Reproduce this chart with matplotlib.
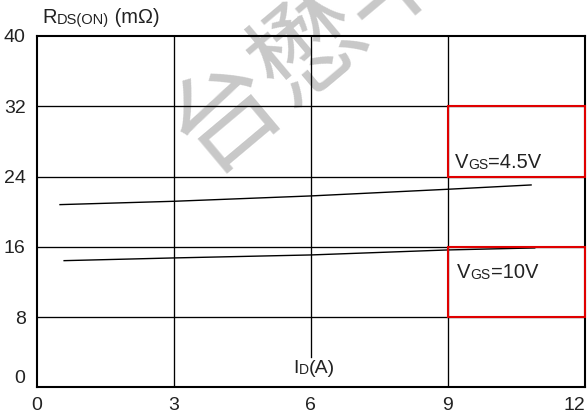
import numpy as np
import matplotlib
matplotlib.use("Agg")
import matplotlib.pyplot as plt
from matplotlib.patches import Rectangle

plt.rcParams['font.family'] = ['Liberation Sans', 'DejaVu Sans']

# curves
id_45 = [0.51, 3, 6, 9, 10.82]
rds_45 = [20.8, 21.18, 21.79, 22.55, 23.04]
id_10 = [0.60, 3, 6, 9, 10.9]
rds_10 = [14.42, 14.73, 15.07, 15.64, 15.87]

xticks = [0, 3, 6, 9, 12]
yticks = [0, 8, 16, 24, 32, 40]

# red label boxes (x0, y0, w, h)
box_45 = (9, 24, 3, 8)
box_10 = (9, 8, 3, 8)

fig = plt.figure(figsize=(5.88, 4.17), dpi=100)
ax = fig.add_axes([36.7 / 588, 1 - 387.3 / 417, 548.3 / 588, (387.3 - 36) / 417])
ax.set_xlim(0, 12)
ax.set_ylim(0, 40)

# watermark
ax.text(0.312, 0.642, "台懋半导体", transform=fig.transFigure, fontsize=78,
        family=['Noto Sans CJK SC'], color='#c8c8c8', rotation=40,
        rotation_mode='anchor', ha='left', va='center', zorder=0.1, clip_on=False)

# grid
for y in yticks[1:-1]:
    ax.axhline(y, color='black', lw=0.95, zorder=1)
for x in xticks[1:-1]:
    ax.axvline(x, ymin=(3.45 / 40 if x == 6 else 0), color='black', lw=0.95, zorder=1)

ax.plot(id_45, rds_45, color='black', lw=1.0, zorder=3)
ax.plot(id_10, rds_10, color='black', lw=1.0, zorder=3)

for b in (box_45, box_10):
    ax.add_patch(Rectangle((b[0], b[1]), b[2], b[3], fill=False, edgecolor='#e00000',
                           lw=1.5, zorder=4, clip_on=False))

for s in ax.spines.values():
    s.set_linewidth(1.5)

ax.set_xticks(xticks)
ax.set_yticks(yticks)
ax.tick_params(length=0, labelsize=14, colors='#222222', pad=8)
ax.tick_params(axis='x', pad=7)
ax.get_xticklabels()[-1].set_ha('right')
ax.get_yticklabels()[0].set_va('bottom')


def rich(parts, x, y, transform):
    t = ax.text(x, y, parts[0][0], fontsize=parts[0][1], transform=transform,
                va='baseline', ha='left', color='#222222', zorder=5)
    for s, fs in parts[1:]:
        t = ax.annotate(s, xy=(1, 0), xycoords=t, fontsize=fs, va='bottom',
                        ha='left', color='#222222', zorder=5, annotation_clip=False)
    return t


rich([("V", 14.5), ("GS", 10), ("=4.5V", 14.5)], 9.15, 24.98, ax.transData)
rich([("V", 14.5), ("GS", 10), ("=10V", 14.5)], 9.2, 12.45, ax.transData)
rich([("I", 14), ("D", 10), ("(A)", 14)], 5.61, 1.63, ax.transData)
rich([("R", 14.5), ("DS(ON)", 10.5), (" (mΩ)", 14.5)], 42 / 588, 1 - 23 / 417, fig.transFigure)

fig.savefig("out.png", dpi=100)
